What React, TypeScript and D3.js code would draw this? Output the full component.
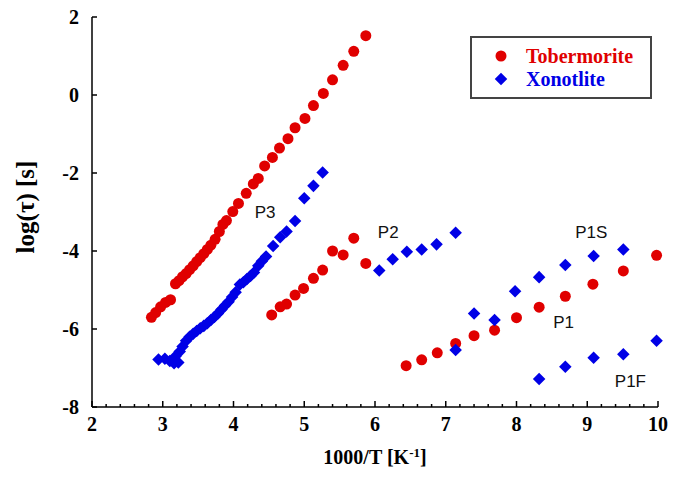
import React from 'react'
import * as d3 from 'd3'

// Tobermorite (red circles)
const tobP3 = [
  [2.84, -5.7], [2.9, -5.58], [2.97, -5.43], [3.04, -5.32], [3.11, -5.25],
  [3.18, -4.84], [3.23, -4.76], [3.28, -4.66], [3.33, -4.58], [3.38, -4.48],
  [3.43, -4.38], [3.48, -4.27], [3.53, -4.17], [3.58, -4.07], [3.63, -3.96],
  [3.68, -3.85], [3.74, -3.7], [3.8, -3.5], [3.85, -3.32], [3.9, -3.22],
  [3.99, -2.99], [4.07, -2.78], [4.18, -2.52], [4.28, -2.28], [4.35, -2.14],
  [4.44, -1.82], [4.55, -1.6], [4.65, -1.36], [4.77, -1.12], [4.87, -0.84],
  [5.01, -0.6], [5.13, -0.27], [5.27, 0.04], [5.4, 0.39], [5.55, 0.76],
  [5.7, 1.12], [5.87, 1.52],
]
const tobP2 = [
  [4.54, -5.64], [4.66, -5.43], [4.75, -5.36], [4.87, -5.13], [4.99, -4.96],
  [5.13, -4.7], [5.26, -4.49], [5.4, -4.0], [5.55, -4.1], [5.7, -3.67], [5.87, -4.32],
]
const tobP1 = [
  [6.44, -6.94], [6.66, -6.79], [6.88, -6.61], [7.14, -6.37], [7.4, -6.17],
  [7.69, -6.03], [8.0, -5.71], [8.32, -5.44], [8.69, -5.16], [9.08, -4.85],
  [9.51, -4.51], [9.98, -4.11],
]

// Xonotlite (blue diamonds)
const xonP3 = [
  [2.94, -6.78], [3.03, -6.76], [3.1, -6.82], [3.16, -6.88], [3.22, -6.86],
  [3.18, -6.7], [3.24, -6.58], [3.28, -6.45], [3.33, -6.3], [3.38, -6.2],
  [3.43, -6.12], [3.48, -6.05], [3.53, -5.98], [3.58, -5.92], [3.63, -5.85],
  [3.68, -5.77], [3.73, -5.69], [3.78, -5.6], [3.83, -5.5], [3.88, -5.4],
  [3.93, -5.3], [3.98, -5.18], [4.03, -5.06], [4.09, -4.86], [4.14, -4.8],
  [4.19, -4.72], [4.24, -4.64], [4.29, -4.55], [4.35, -4.38], [4.4, -4.26],
  [4.46, -4.14], [4.56, -3.87], [4.66, -3.65], [4.75, -3.5], [4.87, -3.23],
  [5.0, -2.65], [5.13, -2.33], [5.26, -1.99],
]
const xonP2 = [
  [6.06, -4.5], [6.25, -4.21], [6.45, -4.02], [6.66, -3.96], [6.87, -3.83], [7.14, -3.53],
]
const xonP1S = [
  [7.14, -6.54], [7.4, -5.6], [7.69, -5.77], [7.98, -5.03], [8.32, -4.67],
  [8.69, -4.36], [9.09, -4.13], [9.51, -3.96],
]
const xonP1F = [
  [8.32, -7.28], [8.69, -6.97], [9.09, -6.74], [9.51, -6.65], [9.98, -6.3],
]

const peakLabels = ['P3', 'P2', 'P1S', 'P1', 'P1F']
const peakX = [4.3, 6.04, 8.83, 8.52, 9.39]
const peakY = [-3.15, -3.67, -3.67, -5.97, -7.49]

const legendNames = ['Tobermorite', 'Xonotlite']

const RED = '#e00000'
const BLUE = '#0000e6'
const serif = '"Liberation Serif", "Times New Roman", serif'

const x = d3.scaleLinear().domain([2, 10]).range([92, 658])
const y = d3.scaleLinear().domain([-8, 2]).range([407, 17])

const diamond = d3.symbol().type(d3.symbolDiamond2).size(100)

export default function App() {
  const tob = [...tobP3, ...tobP2, ...tobP1]
  const xon = [...xonP3, ...xonP2, ...xonP1S, ...xonP1F]
  const xMajor = x.ticks(8)
  const xMinor = d3.range(20, 101, 2).map(v => v / 10)
  const yMajor = y.ticks(5)

  return (
    <svg width={681} height={477} style={{ position: 'absolute', left: 0, top: 0, background: '#fff' }}>
      {/* axes */}
      <g stroke="#000" strokeWidth={1.5} fill="none">
        <line x1={x(2)} x2={x(2)} y1={y(2)} y2={y(-8)} />
        <line x1={x(2)} x2={x(10)} y1={y(-8)} y2={y(-8)} />
        {yMajor.map(v => (
          <line key={'yt' + v} x1={x(2)} x2={x(2) + 5} y1={y(v)} y2={y(v)} />
        ))}
        {xMinor.map(v => (
          <line key={'xm' + v} x1={x(v)} x2={x(v)} y1={y(-8)} y2={y(-8) - (Number.isInteger(v) ? 6 : 3)} />
        ))}
      </g>
      <g fontFamily={serif} fontWeight="bold" fontSize={20} fill="#000">
        {yMajor.map(v => (
          <text key={'yl' + v} x={79} y={y(v)} dy="0.35em" textAnchor="end">{v}</text>
        ))}
        {xMajor.map(v => (
          <text key={'xl' + v} x={x(v)} y={431} textAnchor="middle">{v}</text>
        ))}
        <text x={375} y={464} textAnchor="middle">
          1000/T [K<tspan dy={-7} fontSize={13}>-1</tspan><tspan dy={7}>]</tspan>
        </text>
        <text transform="translate(34,207) rotate(-90)" textAnchor="middle" fontSize={25}>
          log(τ) [s]
        </text>
      </g>

      {/* data */}
      {tob.map((d, i) => (
        <circle key={'t' + i} cx={x(d[0])} cy={y(d[1])} r={5.5} fill={RED} />
      ))}
      {xon.map((d, i) => (
        <path key={'x' + i} d={diamond()} transform={`translate(${x(d[0])},${y(d[1])})`} fill={BLUE} />
      ))}

      {peakLabels.map((l, i) => (
        <text key={l} x={x(peakX[i])} y={y(peakY[i])} fontFamily='"Liberation Sans", Arial, sans-serif' fontSize={17} fill="#111">
          {l}
        </text>
      ))}

      {/* legend */}
      <rect x={471} y={37} width={180} height={61} fill="#fff" stroke="#444" strokeWidth={2} />
      <circle cx={501} cy={56} r={5.5} fill={RED} />
      <path d={diamond()} transform="translate(501,79)" fill={BLUE} />
      <g fontFamily={serif} fontWeight="bold" fontSize={20}>
        <text x={526} y={63} fill={RED}>{legendNames[0]}</text>
        <text x={526} y={86} fill={BLUE}>{legendNames[1]}</text>
      </g>
    </svg>
  )
}
